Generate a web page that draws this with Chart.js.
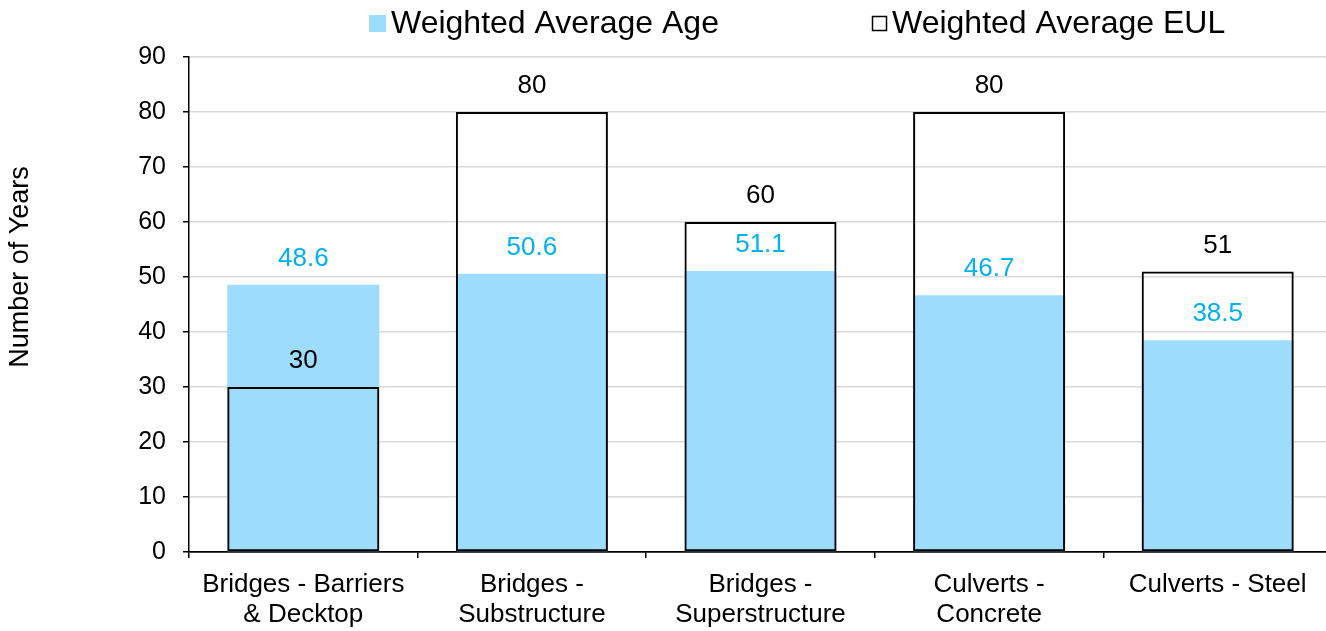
<!DOCTYPE html>
<html>
<head>
<meta charset="utf-8">
<title>Weighted Average Age vs EUL</title>
<script src="https://cdn.jsdelivr.net/npm/chart.js@4/dist/chart.umd.min.js"></script>
<style>
  html, body { margin: 0; padding: 0; background: #fff; overflow: hidden; }
  #wrap { width: 1326px; height: 631px; overflow: hidden; position: relative; }
  canvas { display: block; }
</style>
</head>
<body>
<div id="wrap"><canvas id="chart" width="1332" height="631"></canvas></div>
<script>
// Asset categories (multi-line labels)
const categories = [
  ['Bridges - Barriers', '& Decktop'],
  ['Bridges -', 'Substructure'],
  ['Bridges -', 'Superstructure'],
  ['Culverts -', 'Concrete'],
  ['Culverts - Steel']
];
// Weighted average age, years
const ageValues = [48.6, 50.6, 51.1, 46.7, 38.5];
// Weighted average estimated useful life, years
const eulValues = [30, 80, 60, 80, 51];
// Y-axis ticks
const yTicks = [0, 10, 20, 30, 40, 50, 60, 70, 80, 90];

const seriesNames = ['Weighted Average Age', 'Weighted Average EUL'];
const ageFill = '#9EDCFD';
const ageLabelColor = '#00B0F0';
const FONT = '"Liberation Sans", Arial, sans-serif';

// Value labels above each bar
const valueLabels = {
  id: 'valueLabels',
  afterDatasetsDraw(chart) {
    const ctx = chart.ctx;
    ctx.save();
    ctx.font = '26px ' + FONT;
    ctx.textAlign = 'center';
    ctx.textBaseline = 'middle';
    chart.data.datasets.forEach((ds, i) => {
      const meta = chart.getDatasetMeta(i);
      ctx.fillStyle = ds.labelColor;
      meta.data.forEach((bar, j) => {
        const v = ds.data[j];
        ctx.fillText(v.toFixed(ds.decimals), bar.x, bar.y - 26);
      });
    });
    ctx.restore();
  }
};

// Legend row and rotated y-axis title
const decorations = {
  id: 'decorations',
  afterDraw(chart) {
    const ctx = chart.ctx;
    ctx.save();
    ctx.font = '32px ' + FONT;
    ctx.textBaseline = 'middle';
    ctx.textAlign = 'left';
    ctx.fillStyle = '#000';

    // Age item: filled square
    ctx.fillStyle = ageFill;
    ctx.fillRect(369, 15, 17, 17);
    ctx.fillStyle = '#000';
    ctx.fillText(seriesNames[0], 391, 24);

    // EUL item: outlined square
    ctx.strokeStyle = '#000';
    ctx.lineWidth = 1.5;
    ctx.strokeRect(872.5, 16.5, 14, 14);
    ctx.fillText(seriesNames[1], 892, 24);

    // Y-axis title
    ctx.font = '27px ' + FONT;
    ctx.textAlign = 'center';
    ctx.translate(21, 267);
    ctx.rotate(-Math.PI / 2);
    ctx.fillText('Number of Years', 0, 0);
    ctx.restore();
  }
};

new Chart(document.getElementById('chart'), {
  type: 'bar',
  data: {
    labels: categories,
    datasets: [
      {
        label: seriesNames[0],
        data: ageValues,
        backgroundColor: ageFill,
        borderWidth: 0,
        order: 2,
        labelColor: ageLabelColor,
        decimals: 1
      },
      {
        label: seriesNames[1],
        data: eulValues,
        backgroundColor: 'rgba(0,0,0,0)',
        borderColor: '#000',
        borderWidth: 2,
        borderSkipped: false,
        order: 1,
        labelColor: '#000',
        decimals: 0
      }
    ]
  },
  options: {
    responsive: false,
    devicePixelRatio: 1,
    animation: false,
    layout: { padding: { top: 57, right: 0, bottom: 0, left: 0 } },
    plugins: {
      legend: { display: false },
      tooltip: { enabled: false }
    },
    datasets: {
      bar: { grouped: false, categoryPercentage: 1, barPercentage: 0.665 }
    },
    scales: {
      x: {
        offset: true,
        grid: {
          display: true,
          offset: true,
          drawOnChartArea: false,
          drawTicks: true,
          tickLength: 6,
          color: '#000',
          lineWidth: 1.5
        },
        border: { display: true, color: '#000', width: 1.5 },
        ticks: {
          color: '#000',
          font: { family: FONT, size: 26, lineHeight: 1.18 },
          padding: 11,
          maxRotation: 0,
          autoSkip: false
        },
        afterFit(scale) { scale.height = 79; }
      },
      y: {
        min: 0,
        max: 90,
        afterBuildTicks(scale) { scale.ticks = yTicks.map(v => ({ value: v })); },
        grid: {
          color: (c) => (c.tick && c.tick.value === 0 ? '#000' : '#D9D9D9'),
          lineWidth: 1.5,
          tickColor: '#000',
          tickLength: 6,
          drawTicks: true
        },
        border: { display: true, color: '#000', width: 1.5 },
        ticks: {
          color: '#000',
          font: { family: FONT, size: 25 },
          padding: 17
        },
        afterFit(scale) { scale.width = 189; }
      }
    }
  },
  plugins: [valueLabels, decorations]
});
</script>
</body>
</html>
